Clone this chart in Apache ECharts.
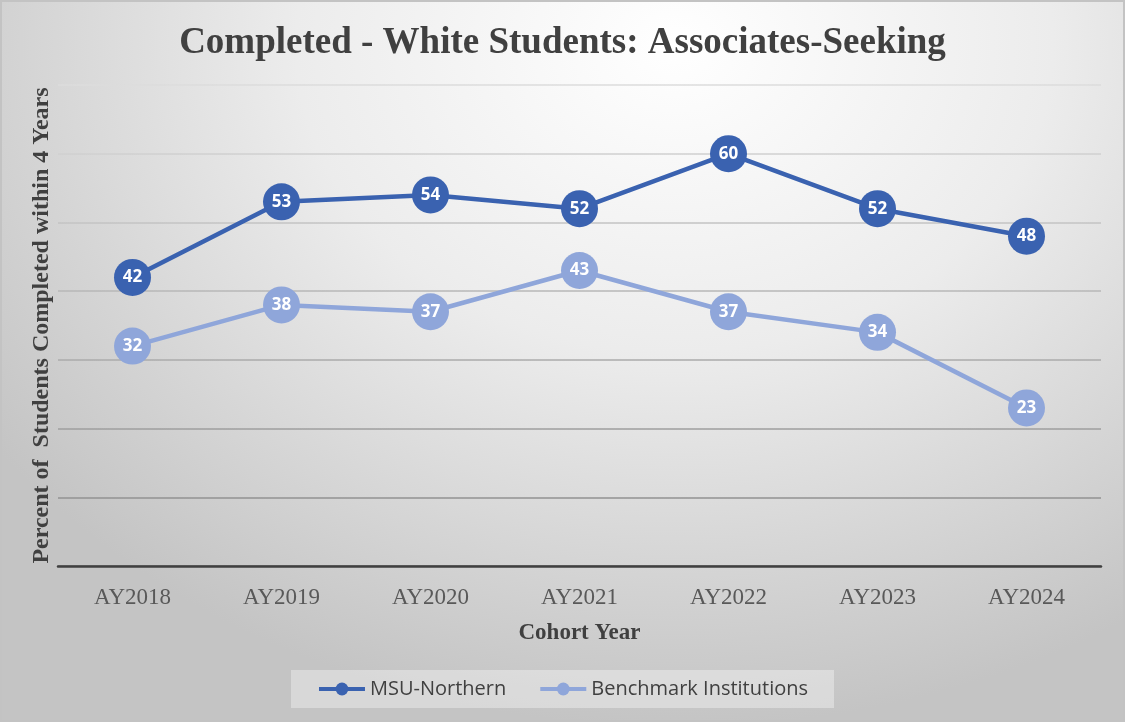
<!DOCTYPE html>
<html>
<head>
<meta charset="utf-8">
<script src="https://cdn.jsdelivr.net/npm/echarts@6/dist/echarts.min.js"></script>
<style>
  html, body { margin: 0; padding: 0; }
  #main {
    width: 1121px; height: 718px;
    border: 2px solid #c3c3c3;
    background: radial-gradient(ellipse 75% 95% at 60% 6%, #ffffff 0%, #ececec 45%, #d6d6d6 75%, #c4c4c4 100%);
  }
</style>
</head>
<body>
<div id="main"></div>
<script>
var categories = ['AY2018', 'AY2019', 'AY2020', 'AY2021', 'AY2022', 'AY2023', 'AY2024'];
var msuNorthern = [42, 53, 54, 52, 60, 52, 48];
var benchmark = [32, 38, 37, 43, 37, 34, 23];

var myChart = echarts.init(document.getElementById('main'));

var labelStyle = {
    show: true,
    position: 'inside',
    color: '#ffffff',
    fontWeight: 'bold',
    fontSize: 17,
    fontFamily: 'Open Sans'
};

var option = {
    backgroundColor: 'transparent',
    title: {
        text: 'Completed - White Students: Associates-Seeking',
        left: 'center',
        top: 18,
        textStyle: {
            fontFamily: 'Liberation Serif',
            fontSize: 37,
            fontWeight: 'bold',
            color: '#404040'
        }
    },
    legend: {
        bottom: 12,
        left: 'center',
        itemWidth: 46,
        itemHeight: 16,
        itemGap: 32,
        padding: [9, 26, 9, 26],
        backgroundColor: 'rgba(255,255,255,0.35)',
        lineStyle: { width: 4 },
        textStyle: { fontFamily: 'Open Sans', fontSize: 20, color: '#404040' },
        data: ['MSU-Northern', 'Benchmark Institutions']
    },
    grid: {
        left: 56,
        right: 22,
        top: 83,
        bottom: 154
    },
    xAxis: {
        type: 'category',
        data: categories,
        name: 'Cohort Year',
        nameLocation: 'middle',
        nameGap: 56,
        nameTextStyle: { fontFamily: 'Liberation Serif', fontSize: 23, fontWeight: 'bold', color: '#404040' },
        axisLine: { lineStyle: { color: '#404040', width: 2.5 } },
        axisTick: { show: false },
        axisLabel: { fontFamily: 'Liberation Serif', fontSize: 23, color: '#595959', margin: 20 }
    },
    yAxis: {
        type: 'value',
        min: 0,
        max: 70,
        interval: 10,
        name: 'Percent of  Students Completed within 4 Years',
        nameLocation: 'middle',
        nameGap: 4,
        nameTextStyle: { fontFamily: 'Liberation Serif', fontSize: 24, fontWeight: 'bold', color: '#404040' },
        axisLine: { show: false },
        axisTick: { show: false },
        axisLabel: { show: false },
        splitLine: {
            lineStyle: {
                width: 1.5,
                color: {
                    type: 'linear', x: 0, y: 85, x2: 0, y2: 566, global: true,
                    colorStops: [
                        { offset: 0, color: '#dcdcdc' },
                        { offset: 1, color: '#858585' }
                    ]
                }
            }
        }
    },
    series: [
        {
            name: 'MSU-Northern',
            type: 'line',
            data: msuNorthern,
            symbol: 'circle',
            symbolSize: 37,
            color: '#3a62b0',
            lineStyle: { width: 4.5, color: '#3a62b0' },
            itemStyle: { color: '#3a62b0' },
            label: labelStyle,
            z: 3
        },
        {
            name: 'Benchmark Institutions',
            type: 'line',
            data: benchmark,
            symbol: 'circle',
            symbolSize: 37,
            color: '#8fa6da',
            lineStyle: { width: 4.5, color: '#8fa6da' },
            itemStyle: { color: '#8fa6da' },
            label: labelStyle,
            z: 2
        }
    ]
};

myChart.setOption(option);
</script>
</body>
</html>
